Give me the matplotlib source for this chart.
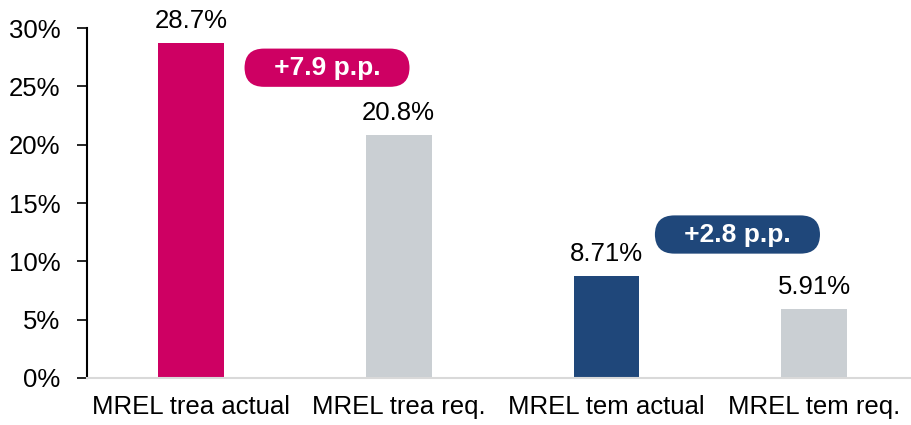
import numpy as np
import matplotlib
matplotlib.use('Agg')
import matplotlib.pyplot as plt
from matplotlib.ticker import FuncFormatter

plt.rcParams['font.family'] = ['Liberation Sans', 'DejaVu Sans']

categories = ['MREL trea actual', 'MREL trea req.', 'MREL tem actual', 'MREL tem req.']
values = [28.7, 20.8, 8.71, 5.91]
value_labels = ['28.7%', '20.8%', '8.71%', '5.91%']
colors = ['#CE0063', '#CACFD3', '#1F477A', '#CACFD3']

gaps = ['+7.9 p.p.', '+2.8 p.p.']
gap_pos = [(0.655, 26.6), (2.63, 12.3)]
gap_colors = ['#CE0063', '#1F477A']

fig = plt.figure(figsize=(9.12, 4.25), dpi=100)
ax = fig.add_axes([0.0954, 0.1106, 0.9046, 0.8234])

x = np.arange(len(categories))
ax.bar(x, values, width=0.317, color=colors, zorder=2)

for xi, v, lab in zip(x, values, value_labels):
    ax.text(xi, v + 0.9, lab, ha='center', va='bottom', fontsize=18.5)

for (gx, gy), txt, c in zip(gap_pos, gaps, gap_colors):
    ax.text(gx, gy, '   ' + txt + '   ', ha='center', va='center', fontsize=19,
            fontweight='bold', color='white',
            bbox=dict(boxstyle='round,pad=0.27,rounding_size=0.74', fc=c, ec='none'))

ax.set_xlim(-0.5, 3.47)
ax.set_ylim(0, 30)
ax.set_yticks(np.arange(0, 31, 5))
ax.yaxis.set_major_formatter(FuncFormatter(lambda v, p: f'{v:.0f}%'))
ax.set_xticks(x)
ax.set_xticklabels(categories, fontsize=18.5)
ax.tick_params(axis='y', labelsize=18.5, length=7, width=1.2, pad=12)
ax.tick_params(axis='x', length=0, pad=12)

for s in ['top', 'right']:
    ax.spines[s].set_visible(False)
ax.spines['left'].set_linewidth(1.5)
ax.spines['left'].set_color('black')
ax.spines['bottom'].set_color('#D9D9D9')
ax.spines['bottom'].set_linewidth(1.5)

fig.savefig('out.png', dpi=100)
